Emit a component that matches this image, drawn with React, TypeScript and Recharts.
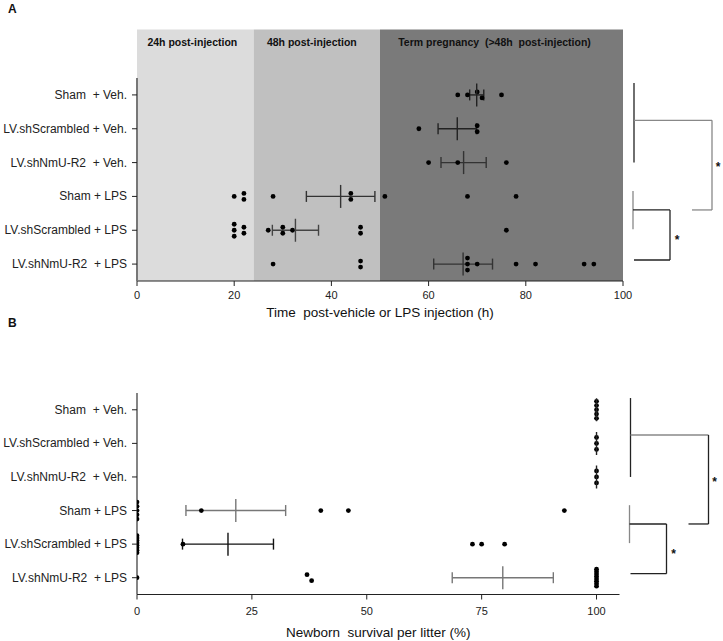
import React from "react";
import { ScatterChart, Scatter, XAxis, YAxis, ErrorBar, ReferenceArea } from "recharts";

const groups = [
  "Sham\u00a0 + Veh.",
  "LV.shScrambled + Veh.",
  "LV.shNmU-R2\u00a0 + Veh.",
  "Sham + LPS",
  "LV.shScrambled + LPS",
  "LV.shNmU-R2\u00a0 + LPS",
];

// panel A: time of delivery (h)
const timeTicks = [0, 20, 40, 60, 80, 100];
const shamVehTime = [66, 68, 70, 71, 75];
const scrVehTime = [58, 70, 70];
const nmuVehTime = [60, 66, 76];
const shamLpsTime = [20, 22, 22, 28, 44, 44, 51, 68, 78];
const scrLpsTime = [20, 20, 20, 22, 22, 27, 30, 30, 32, 46, 46, 76];
const nmuLpsTime = [28, 46, 46, 68, 68, 68, 70, 78, 82, 92, 94];
const timeMean = [69.9, 65.9, 67.2, 41.9, 32.6, 67.1];
const timeSem = [1.45, 3.95, 4.65, 7.05, 4.75, 6.05];

const phaseStart = [0, 24, 50];
const phaseEnd = [24, 50, 100];
const phaseLabels = ["24h post-injection", "48h post-injection", "Term pregnancy\u00a0 (>48h\u00a0 post-injection)"];

// panel B: newborn survival (%)
const survivalTicks = [0, 25, 50, 75, 100];
const shamVehSurv = [100, 100, 100, 100, 100];
const scrVehSurv = [100, 100, 100];
const nmuVehSurv = [100, 100, 100];
const shamLpsSurv = [0, 0, 0, 0, 0, 14, 40, 46, 93];
const scrLpsSurv = [0, 0, 0, 0, 0, 0, 0, 0, 10, 73, 75, 80];
const nmuLpsSurv = [0, 37, 38, 100, 100, 100, 100, 100, 100, 100, 100];
const survivalMean = [100, 100, 100, 21.5, 19.8, 79.6];
const survivalSem = [0, 0, 0, 10.85, 9.9, 11];

const font = "'Liberation Sans', Arial, sans-serif";
const phaseFill = ["#dcdcdc", "#c0c0c0", "#7a7a7a"];
const phaseShift = [-3, -5, -7];

// spread tied / near-tied values vertically, like a dot plot
const swarm = (rows: number[][]) => {
  const pts: { x: number; y: number; dy: number }[] = [];
  rows.forEach((vals, i) => {
    const s = [...vals].sort((a, b) => a - b);
    let k = 0;
    while (k < s.length) {
      let j = k;
      while (j + 1 < s.length && s[j + 1] - s[j] <= 1.5) j++;
      const n = j - k + 1;
      const step = n > 1 ? Math.min(6, 17 / (n - 1)) : 0;
      for (let m = 0; m < n; m++) pts.push({ x: s[k + m], y: i + 1, dy: (m - (n - 1) / 2) * step });
      k = j + 1;
    }
  });
  return pts;
};

const Dot = (props: any) => (
  <circle cx={props.cx} cy={props.cy + (props.payload?.dy || 0)} r={2.4} fill="#000" />
);

const MeanLine = (color: string) => (props: any) => (
  <line x1={props.cx} x2={props.cx} y1={props.cy - 11.5} y2={props.cy + 11.5} stroke={color} strokeWidth={1.4} />
);

const GroupTick = (props: any) => (
  <text x={props.x} y={props.y} dy={4} textAnchor="end" fontSize={12} fontFamily={font} fill="#222">
    {groups[props.payload.value - 1]}
  </text>
);

const Brackets = ({ top, rowH, right, outer }: any) => {
  const ry = (r: number) => top + (r - 0.5) * rowH;
  const dark = "#222";
  const gray = "#888";
  return (
    <g fill="none" strokeWidth={1.3}>
      <line x1={right + 11} x2={right + 11} y1={ry(0.65)} y2={ry(3)} stroke={dark} />
      <line x1={right + 11} x2={right + 89} y1={ry(1.75)} y2={ry(1.75)} stroke={gray} />
      <line x1={right + 89} x2={right + 89} y1={ry(1.75)} y2={ry(4.4)} stroke={outer} />
      <line x1={right + 69} x2={right + 89} y1={ry(4.4)} y2={ry(4.4)} stroke={outer} />
      <line x1={right + 10} x2={right + 10} y1={ry(3.84)} y2={ry(4.97)} stroke={gray} />
      <line x1={right + 10} x2={right + 47} y1={ry(4.4)} y2={ry(4.4)} stroke={dark} />
      <line x1={right + 47} x2={right + 47} y1={ry(4.4)} y2={ry(5.88)} stroke={dark} />
      <line x1={right + 11} x2={right + 47} y1={ry(5.88)} y2={ry(5.88)} stroke={dark} />
      <text x={right + 95} y={ry(3.08) + 6} fontSize={12} fontWeight="bold" fill="#111" textAnchor="middle" stroke="none">*</text>
      <text x={right + 54} y={ry(5.23) + 6} fontSize={12} fontWeight="bold" fill="#111" textAnchor="middle" stroke="none">*</text>
    </g>
  );
};

const Panel = (p: any) => {
  const plotH = p.height - p.top - p.xHeight;
  return (
    <div style={{ position: "absolute", left: 0, top: p.y, width: 723, height: p.height }}>
      <ScatterChart width={723} height={p.height} margin={{ top: p.top, right: p.right, bottom: 0, left: 0 }}>
        {p.shaded &&
          phaseStart.map((s, i) => (
            <ReferenceArea
              key={i}
              x1={s}
              x2={phaseEnd[i]}
              y1={-0.93}
              y2={6.5}
              ifOverflow="visible"
              fill={phaseFill[i]}
              fillOpacity={1}
              stroke="none"
              label={{
                value: phaseLabels[i],
                position: "insideTop",
                offset: 9,
                fill: "#111",
                fontSize: 10.5,
                fontWeight: "bold",
                fontFamily: font,
                dx: phaseShift[i],
              }}
            />
          ))}
        <XAxis
          type="number"
          dataKey="x"
          domain={p.domain}
          ticks={p.ticks}
          allowDataOverflow
          height={p.xHeight}
          tickSize={5}
          tickMargin={p.tickMargin}
          stroke="#222"
          tick={{ fill: "#222", fontSize: 11, fontFamily: font }}
          label={{ value: p.title, position: "insideBottom", offset: p.titleOffset, fill: "#111", fontSize: p.titleSize, fontFamily: font }}
        />
        <YAxis
          type="number"
          dataKey="y"
          domain={[0.5, 6.5]}
          ticks={[1, 2, 3, 4, 5, 6]}
          reversed
          width={137}
          tickSize={5}
          tickMargin={5}
          interval={0}
          axisLine={{ stroke: p.yAxisColor, strokeWidth: p.yAxisWidth }}
          tickLine={{ stroke: "#222" }}
          tick={GroupTick}
        />
        <Scatter data={swarm(p.rows)} shape={Dot} isAnimationActive={false} />
        {p.means.map((m: number, i: number) => (
          <Scatter
            key={i}
            data={[{ x: m, y: i + 1, err: p.sems[i] }]}
            shape={MeanLine(p.meanColors[i])}
            isAnimationActive={false}
          >
            <ErrorBar dataKey="err" direction="x" width={5.5} stroke={p.meanColors[i]} strokeWidth={1.4} />
          </Scatter>
        ))}
      </ScatterChart>
      <svg width={723} height={p.height} style={{ position: "absolute", left: 0, top: 0, pointerEvents: "none" }}>
        <Brackets top={p.top} rowH={plotH / 6} right={723 - p.right} outer={p.outer} />
        <text x={8} y={p.letterY} fontSize={12} fontWeight="bold" fontFamily={font} fill="#111">
          {p.letter}
        </text>
      </svg>
    </div>
  );
};

export default function App() {
  return (
    <div style={{ position: "absolute", left: 0, top: 0, width: 723, height: 641, background: "#fff", fontFamily: font }}>
      <Panel
        y={0}
        height={320}
        top={78}
        right={100}
        xHeight={39}
        tickMargin={5}
        titleOffset={3}
        titleSize={13.5}
        domain={[0, 100]}
        ticks={timeTicks}
        title={"Time\u00a0 post-vehicle or LPS injection (h)"}
        shaded
        rows={[shamVehTime, scrVehTime, nmuVehTime, shamLpsTime, scrLpsTime, nmuLpsTime]}
        means={timeMean}
        sems={timeSem}
        meanColors={["#222", "#222", "#333", "#333", "#444", "#333"]}
        yAxisColor="#777"
        yAxisWidth={2}
        outer="#888"
        letter="A"
        letterY={13}
      />
      <Panel
        y={314}
        height={327}
        top={79}
        right={103.5}
        xHeight={46.5}
        tickMargin={8}
        titleOffset={4}
        titleSize={13.5}
        domain={[0, 105]}
        ticks={survivalTicks}
        title={"Newborn\u00a0 survival per litter (%)"}
        rows={[shamVehSurv, scrVehSurv, nmuVehSurv, shamLpsSurv, scrLpsSurv, nmuLpsSurv]}
        means={survivalMean}
        sems={survivalSem}
        meanColors={["#222", "#222", "#222", "#777", "#111", "#777"]}
        yAxisColor="#333"
        yAxisWidth={1.2}
        outer="#222"
        letter="B"
        letterY={13}
      />
    </div>
  );
}
